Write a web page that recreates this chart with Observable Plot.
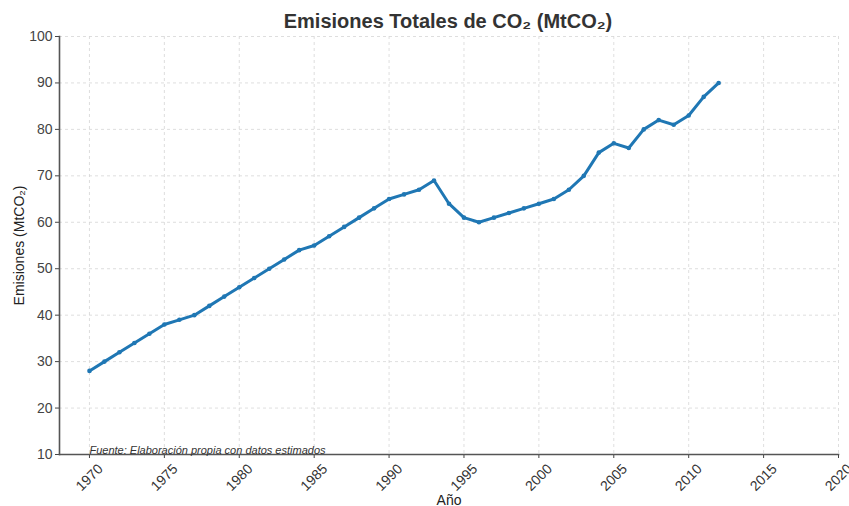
<!DOCTYPE html>
<html><head><meta charset="utf-8">
<script src="https://cdn.jsdelivr.net/npm/d3@7"></script>
<script src="https://cdn.jsdelivr.net/npm/@observablehq/plot@0.6"></script>
<style>
body{margin:0;background:#fff;font-family:"Liberation Sans",Arial,sans-serif;}
#title{position:relative;height:30px;width:849px;}
#title span{position:absolute;left:448px;transform:translateX(-50%);top:11px;font-size:20px;line-height:1;font-weight:bold;color:#333;white-space:nowrap;}
</style></head><body>
<div id="title"><span>Emisiones Totales de CO₂ (MtCO₂)</span></div>
<div id="chart"></div>
<script>
const years = [1970,1971,1972,1973,1974,1975,1976,1977,1978,1979,1980,1981,1982,1983,1984,1985,1986,1987,1988,1989,1990,1991,1992,1993,1994,1995,1996,1997,1998,1999,2000,2001,2002,2003,2004,2005,2006,2007,2008,2009,2010,2011,2012];
const emissions = [28,30,32,34,36,38,39,40,42,44,46,48,50,52,54,55,57,59,61,63,65,66,67,69,64,61,60,61,62,63,64,65,67,70,75,77,76,80,82,81,83,87,90];
const xTicks = [1970,1975,1980,1985,1990,1995,2000,2005,2010,2015,2020];
const yTicks = [10,20,30,40,50,60,70,80,90,100];
const titleText = "Emisiones Totales de CO₂ (MtCO₂)";
const xLabel = "Año";
const yLabel = "Emisiones (MtCO₂)";
const caption = "Fuente: Elaboración propia con datos estimados";

const data = years.map((y, i) => ({year: y, value: emissions[i]}));
const grid = {stroke: "#d6d6d6", strokeOpacity: 1, strokeDasharray: "3,3", strokeWidth: 0.8};

const chart = Plot.plot({
  width: 849,
  height: 476,
  marginTop: 6,
  marginLeft: 59,
  marginRight: 11,
  marginBottom: 52,
  style: {fontFamily: "'Liberation Sans', Arial, sans-serif", background: "#fff", overflow: "visible"},
  x: {domain: [1968, 2020], axis: null},
  y: {domain: [10, 100], axis: null},
  marks: [
    Plot.gridX(xTicks, grid),
    Plot.gridY(yTicks, grid),
    Plot.axisY({ticks: yTicks, tickSize: 4, tickPadding: 3, fontSize: 14, color: "#444", label: null}),
    Plot.axisX({ticks: xTicks, tickSize: 4, tickFormat: () => "", color: "#444", label: null}),
    Plot.text(xTicks, {x: d => d, frameAnchor: "bottom", dy: 23, rotate: -45, text: d => String(d), fontSize: 14, fill: "#333", textAnchor: "middle", lineAnchor: "middle"}),
    Plot.frame({anchor: "left", stroke: "#555", strokeWidth: 1.6}),
    Plot.frame({anchor: "bottom", stroke: "#555", strokeWidth: 1.6}),
    Plot.line(data, {x: "year", y: "value", stroke: "#1f77b4", strokeWidth: 3}),
    Plot.dot(data, {x: "year", y: "value", r: 2.3, fill: "#1f77b4", stroke: "none"}),
    Plot.text([caption], {x: 1970, y: 10, dy: -4, text: d => d, textAnchor: "start", lineAnchor: "middle", fontSize: 11, fontStyle: "italic", fill: "#333"}),
    Plot.text([xLabel], {frameAnchor: "bottom", dy: 41, text: d => d, lineAnchor: "top", fontSize: 14, fill: "#222"}),
    Plot.text([yLabel], {frameAnchor: "left", dx: -40, rotate: -90, text: d => d, textAnchor: "middle", lineAnchor: "middle", fontSize: 14, fill: "#222"})
  ]
});
document.getElementById("chart").appendChild(chart);
</script>
</body></html>
